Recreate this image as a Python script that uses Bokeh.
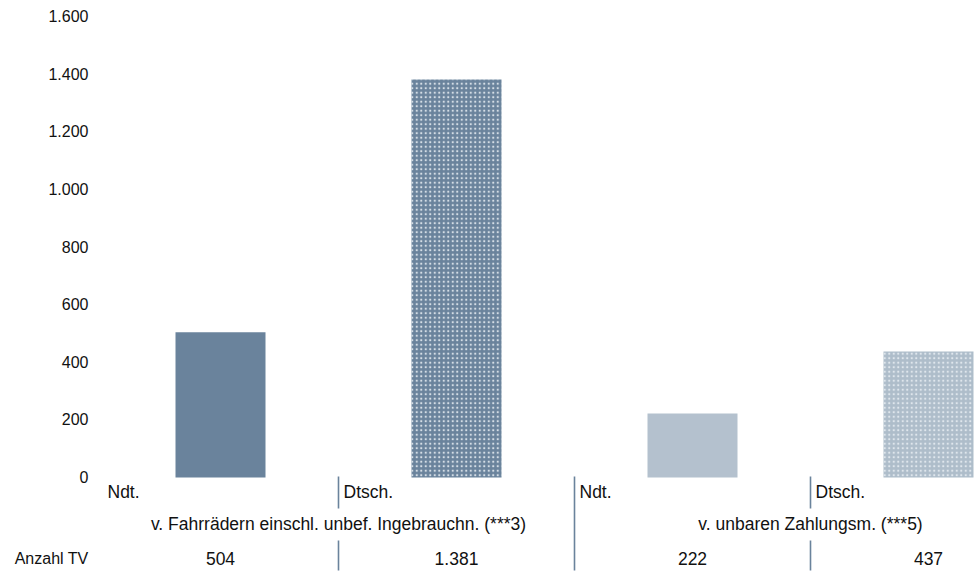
from bokeh.plotting import figure
from bokeh.models import Range1d, FixedTicker, ColumnDataSource
from bokeh.core.properties import value
from bokeh.embed import file_html
from bokeh.resources import INLINE

# ---- data ----
categories = ["Ndt.", "Dtsch.", "Ndt.", "Dtsch."]
groups = ["v. Fahrrädern einschl. unbef. Ingebrauchn. (***3)", "v. unbaren Zahlungsm. (***5)"]
values = [504, 1381, 222, 437]
anzahl_tv = ["504", "1.381", "222", "437"]
row_title = "Anzahl TV"
y_ticks = [0, 200, 400, 600, 800, 1000, 1200, 1400, 1600]
y_tick_labels = ["0", "200", "400", "600", "800", "1.000", "1.200", "1.400", "1.600"]

# ---- styles ----
FONT = "Liberation Sans"
FS = "17.5px"
FS_TICK = "16px"
TXT = "#111111"
DARK = "#6A839C"
LIGHT = "#B4C1CE"
LIGHT_D = "#AEBDCA"
bar_colors = [DARK, DARK, LIGHT, LIGHT_D]
bar_hatch = [" ", "dot", " ", "dot"]

W, H = 974, 573
TOP, LEFT = 16, 102
ZERO_Y = 477
COL_PX = 236.0
x_end = (W - LEFT) / COL_PX
units_per_px = 1600 / float(ZERO_Y - TOP)
y_start = -(H - ZERO_Y) * units_per_px


def py(page_y):
    # pixel offset below the zero line expressed in data units
    return -(page_y - ZERO_Y) * units_per_px


p = figure(width=W, height=H, output_backend="svg", toolbar_location=None,
           x_range=Range1d(0, x_end), y_range=Range1d(y_start, 1600),
           min_border_left=LEFT, min_border_right=0, min_border_top=TOP, min_border_bottom=0)
p.outline_line_color = None
p.grid.visible = False
p.xaxis.visible = False
p.background_fill_color = "white"
p.border_fill_color = "white"

row3_y = py(558)
ya = p.yaxis[0]
ya.ticker = FixedTicker(ticks=y_ticks + [row3_y])
overrides = {t: l for t, l in zip(y_ticks, y_tick_labels)}
overrides[row3_y] = row_title
ya.major_label_overrides = overrides
ya.axis_line_color = None
ya.major_tick_line_color = None
ya.minor_tick_line_color = None
ya.major_tick_out = 0
ya.major_tick_in = 0
ya.major_label_standoff = 14
ya.major_label_text_font = FONT
ya.major_label_text_font_size = FS_TICK
ya.major_label_text_color = TXT

xs = [i + 0.5 for i in range(len(values))]
src = ColumnDataSource(dict(x=xs, top=values, color=bar_colors, hatch=bar_hatch))
p.vbar(x="x", top="top", bottom=0, width=90 / COL_PX, source=src,
       fill_color="color", line_color=None,
       hatch_pattern="hatch", hatch_color="#E8EDF2", hatch_scale=4.5, hatch_weight=1.2,
       hatch_alpha=0.85)

F = value(FONT)
S = value(FS)
# row 1: category labels
p.text(x=[i + 5 / COL_PX for i in range(len(categories))], y=[py(491)] * len(categories),
       text=categories, text_font=F, text_font_size=S, text_color=TXT,
       text_baseline="middle", text_align="left")
# row 2: group labels
p.text(x=[1.0, 3.0], y=[py(523)] * 2, text=groups, text_font=F, text_font_size=S,
       text_color=TXT, text_baseline="middle", text_align="center")
# row 3: counts
p.text(x=xs, y=[row3_y] * len(xs), text=anzahl_tv, text_font=F, text_font_size=S,
       text_color=TXT, text_baseline="middle", text_align="center")

# separators
sep_x0 = [1, 3, 1, 3, 2]
sep_y0 = [py(476), py(476), py(540), py(540), py(476)]
sep_y1 = [py(508), py(508), py(570), py(570), py(570)]
p.segment(x0=sep_x0, y0=sep_y0, x1=sep_x0, y1=sep_y1, line_color=DARK, line_width=1.6)

open("out.html", "w").write(file_html(p, INLINE))
